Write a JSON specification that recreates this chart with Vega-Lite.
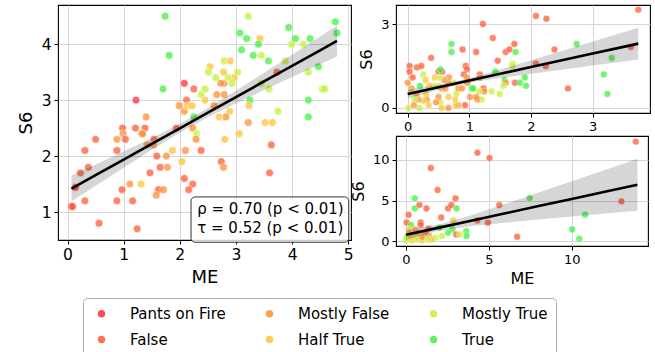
{
  "$schema": "https://vega.github.io/schema/vega-lite/v6.json",
  "padding": {"left": 16, "top": 4, "right": 2, "bottom": 0},
  "config": {
    "font": "DejaVu Sans",
    "view": {"stroke": "#000", "strokeWidth": 1.1},
    "axis": {"grid": true, "gridColor": "#d6d6d6", "gridWidth": 1, "domain": false, "tickColor": "#000", "tickSize": 4, "labelColor": "#000", "titleColor": "#000", "titleFontWeight": "normal", "labelFont": "DejaVu Sans", "titleFont": "DejaVu Sans", "labelPadding": 3, "format": "d"},
    "legend": {"orient": "none", "legendX": 25, "legendY": 293, "columns": 3, "direction": "horizontal", "symbolType": "circle", "symbolSize": 55, "symbolStrokeWidth": 0, "symbolOpacity": 0.85, "labelFontSize": 15, "labelColor": "#000", "labelFont": "DejaVu Sans", "labelOffset": 21, "columnPadding": 33, "rowPadding": 10, "padding": 8, "strokeColor": "#aaaaaa", "cornerRadius": 4, "fillColor": "#fff", "symbolOffset": 3, "labelLimit": 200}
  },
  "datasets": {
    "left": [
      {"x":1.74,"y":4.5,"rating":"True"},{"x":3.22,"y":4.5,"rating":"Mostly True"},{"x":1.81,"y":3.8,"rating":"True"},{"x":1.70,"y":3.2,"rating":"True"},{"x":3.07,"y":4.2,"rating":"True"},{"x":3.19,"y":4.1,"rating":"True"},{"x":3.10,"y":3.9,"rating":"True"},{"x":3.43,"y":4.1,"rating":"Half True"},
      {"x":3.40,"y":4.0,"rating":"True"},{"x":3.31,"y":3.8,"rating":"True"},{"x":3.45,"y":3.8,"rating":"Mostly True"},{"x":3.58,"y":3.7,"rating":"True"},{"x":3.94,"y":4.3,"rating":"True"},{"x":3.99,"y":4.0,"rating":"Mostly True"},{"x":4.06,"y":4.1,"rating":"True"},{"x":4.20,"y":4.0,"rating":"Mostly True"},
      {"x":4.32,"y":4.1,"rating":"True"},{"x":4.77,"y":4.4,"rating":"True"},{"x":4.80,"y":4.2,"rating":"True"},{"x":3.88,"y":3.7,"rating":"Mostly True"},{"x":4.47,"y":3.6,"rating":"True"},{"x":4.29,"y":3.5,"rating":"Mostly True"},{"x":4.54,"y":3.2,"rating":"Mostly True"},{"x":4.58,"y":3.2,"rating":"Mostly True"},
      {"x":4.29,"y":3.0,"rating":"True"},{"x":4.29,"y":2.7,"rating":"True"},{"x":3.75,"y":2.8,"rating":"Mostly True"},{"x":3.59,"y":3.2,"rating":"Mostly True"},{"x":3.73,"y":3.5,"rating":"False"},{"x":3.45,"y":3.3,"rating":"Mostly True"},{"x":3.25,"y":3.0,"rating":"True"},{"x":3.23,"y":2.9,"rating":"Half True"},
      {"x":3.22,"y":2.6,"rating":"Mostly False"},{"x":3.52,"y":2.6,"rating":"Half True"},{"x":3.65,"y":2.6,"rating":"Half True"},{"x":3.63,"y":2.2,"rating":"False"},{"x":3.60,"y":1.7,"rating":"False"},{"x":3.06,"y":2.4,"rating":"Half True"},{"x":2.80,"y":2.3,"rating":"Half True"},{"x":2.74,"y":1.9,"rating":"False"},
      {"x":2.78,"y":1.8,"rating":"Mostly False"},{"x":2.54,"y":3.6,"rating":"Half True"},{"x":2.51,"y":3.5,"rating":"Mostly True"},{"x":2.79,"y":3.7,"rating":"Mostly True"},{"x":2.90,"y":3.7,"rating":"Half True"},{"x":2.78,"y":3.5,"rating":"Half True"},{"x":2.64,"y":3.4,"rating":"Mostly True"},{"x":2.79,"y":3.3,"rating":"Mostly False"},
      {"x":2.73,"y":3.3,"rating":"Mostly False"},{"x":3.03,"y":3.5,"rating":"Mostly True"},{"x":2.97,"y":3.4,"rating":"Half True"},{"x":2.86,"y":3.4,"rating":"Mostly True"},{"x":2.93,"y":3.3,"rating":"Mostly True"},{"x":2.66,"y":3.1,"rating":"Mostly False"},{"x":2.79,"y":3.1,"rating":"Mostly False"},{"x":2.38,"y":3.1,"rating":"Mostly True"},
      {"x":2.45,"y":3.2,"rating":"Mostly True"},{"x":2.45,"y":3.0,"rating":"Half True"},{"x":2.61,"y":2.9,"rating":"Mostly False"},{"x":2.89,"y":2.8,"rating":"Half True"},{"x":2.82,"y":2.7,"rating":"Mostly False"},{"x":2.70,"y":2.7,"rating":"Half True"},{"x":2.25,"y":3.2,"rating":"False"},{"x":2.08,"y":3.3,"rating":"Pants on Fire"},
      {"x":2.12,"y":3.0,"rating":"False"},{"x":1.99,"y":2.9,"rating":"Mostly False"},{"x":2.08,"y":2.8,"rating":"Mostly False"},{"x":2.13,"y":2.9,"rating":"Half True"},{"x":2.22,"y":2.9,"rating":"Half True"},{"x":2.25,"y":2.7,"rating":"True"},{"x":2.23,"y":2.5,"rating":"Mostly False"},{"x":2.30,"y":2.4,"rating":"Mostly True"},
      {"x":2.29,"y":2.3,"rating":"Mostly False"},{"x":2.38,"y":2.1,"rating":"False"},{"x":2.10,"y":2.1,"rating":"Mostly False"},{"x":1.87,"y":2.1,"rating":"Half True"},{"x":2.04,"y":1.9,"rating":"Half True"},{"x":1.94,"y":2.5,"rating":"False"},{"x":2.08,"y":1.6,"rating":"False"},{"x":2.23,"y":1.5,"rating":"False"},
      {"x":2.16,"y":1.4,"rating":"False"},{"x":1.22,"y":3.0,"rating":"Pants on Fire"},{"x":1.40,"y":2.7,"rating":"Mostly False"},{"x":1.21,"y":2.5,"rating":"False"},{"x":1.38,"y":2.5,"rating":"False"},{"x":1.32,"y":2.4,"rating":"Mostly False"},{"x":1.34,"y":2.4,"rating":"Mostly False"},{"x":0.98,"y":2.5,"rating":"False"},
      {"x":0.99,"y":2.4,"rating":"Mostly False"},{"x":0.88,"y":2.3,"rating":"Mostly False"},{"x":1.03,"y":2.3,"rating":"False"},{"x":0.50,"y":2.3,"rating":"False"},{"x":1.42,"y":2.2,"rating":"Mostly False"},{"x":1.54,"y":2.3,"rating":"False"},{"x":1.53,"y":2.2,"rating":"Mostly False"},{"x":1.59,"y":2.0,"rating":"False"},
      {"x":1.76,"y":2.0,"rating":"Mostly False"},{"x":1.65,"y":1.8,"rating":"False"},{"x":1.78,"y":1.8,"rating":"Mostly False"},{"x":1.47,"y":1.7,"rating":"False"},{"x":0.88,"y":2.1,"rating":"False"},{"x":0.31,"y":2.1,"rating":"False"},{"x":0.37,"y":1.8,"rating":"False"},{"x":0.23,"y":1.7,"rating":"False"},
      {"x":0.14,"y":1.44,"rating":"Pants on Fire"},{"x":0.31,"y":1.2,"rating":"False"},{"x":0.07,"y":1.1,"rating":"Pants on Fire"},{"x":0.09,"y":1.1,"rating":"False"},{"x":0.97,"y":1.4,"rating":"False"},{"x":0.88,"y":1.2,"rating":"False"},{"x":1.16,"y":1.2,"rating":"False"},{"x":1.11,"y":1.5,"rating":"Mostly False"},
      {"x":1.31,"y":1.5,"rating":"Half True"},{"x":0.56,"y":0.8,"rating":"False"},{"x":1.24,"y":0.7,"rating":"False"},{"x":1.62,"y":1.4,"rating":"False"},{"x":1.71,"y":1.4,"rating":"Mostly False"},{"x":1.58,"y":1.3,"rating":"Mostly False"}
    ],
    "fitL": [
      {"x":0.07,"fit":1.419,"lo":1.187,"hi":1.651},{"x":0.5,"fit":1.659,"lo":1.468,"hi":1.850},{"x":1,"fit":1.938,"lo":1.793,"hi":2.083},{"x":1.5,"fit":2.217,"lo":2.112,"hi":2.322},{"x":2,"fit":2.496,"lo":2.416,"hi":2.576},{"x":2.5,"fit":2.775,"lo":2.692,"hi":2.858},{"x":3,"fit":3.054,"lo":2.941,"hi":3.167},{"x":3.5,"fit":3.333,"lo":3.179,"hi":3.487},{"x":4,"fit":3.612,"lo":3.412,"hi":3.812},{"x":4.5,"fit":3.891,"lo":3.643,"hi":4.139},{"x":4.8,"fit":4.058,"lo":3.781,"hi":4.335}
    ],
    "boxL": [{"x1":2.2,"x2":5.01,"y1":0.46,"y2":1.27}],
    "statsL": [{"x":2.31,"y":1.05,"t":"ρ = 0.70 (p < 0.01)"},{"x":2.31,"y":0.71,"t":"τ = 0.52 (p < 0.01)"}],
    "tr": [
      {"x":3.74,"y":3.51,"rating":"False"},{"x":2.08,"y":3.29,"rating":"False"},{"x":2.25,"y":3.19,"rating":"False"},{"x":1.22,"y":3.0,"rating":"False"},{"x":1.38,"y":2.5,"rating":"False"},{"x":1.73,"y":2.29,"rating":"False"},{"x":0.71,"y":2.29,"rating":"True"},{"x":0.71,"y":2.0,"rating":"True"},
      {"x":0.89,"y":2.09,"rating":"False"},{"x":1.11,"y":2.0,"rating":"False"},{"x":0.38,"y":1.79,"rating":"False"},{"x":1.59,"y":2.0,"rating":"False"},{"x":1.65,"y":2.09,"rating":"False"},{"x":1.75,"y":2.0,"rating":"True"},{"x":1.46,"y":1.69,"rating":"False"},{"x":1.70,"y":1.59,"rating":"Mostly True"},
      {"x":1.70,"y":1.5,"rating":"Mostly True"},{"x":2.08,"y":1.59,"rating":"False"},{"x":2.24,"y":1.5,"rating":"False"},{"x":2.38,"y":2.09,"rating":"False"},{"x":2.74,"y":2.29,"rating":"True"},{"x":3.31,"y":1.79,"rating":"True"},{"x":3.62,"y":2.18,"rating":"False"},{"x":3.18,"y":1.2,"rating":"True"},
      {"x":3.24,"y":0.5,"rating":"True"},{"x":2.6,"y":0.7,"rating":"False"},{"x":0.03,"y":1.5,"rating":"False"},{"x":0.03,"y":1.3,"rating":"False"},{"x":0.15,"y":1.45,"rating":"False"},{"x":0.22,"y":1.5,"rating":"False"},{"x":0.08,"y":1.09,"rating":"False"},{"x":0.0,"y":0.9,"rating":"Mostly False"},
      {"x":0.06,"y":0.7,"rating":"Mostly False"},{"x":0.25,"y":1.2,"rating":"Mostly True"},{"x":0.2,"y":0.79,"rating":"True"},{"x":0.50,"y":1.3,"rating":"False"},{"x":0.56,"y":1.3,"rating":"False"},{"x":0.53,"y":1.38,"rating":"True"},{"x":0.94,"y":1.5,"rating":"False"},{"x":0.96,"y":1.38,"rating":"False"},
      {"x":0.91,"y":1.2,"rating":"False"},{"x":1.17,"y":1.2,"rating":"False"},{"x":1.17,"y":1.09,"rating":"Mostly False"},{"x":1.42,"y":1.3,"rating":"True"},{"x":1.57,"y":1.0,"rating":"True"},{"x":1.59,"y":0.9,"rating":"Mostly False"},{"x":1.74,"y":0.9,"rating":"False"},{"x":1.82,"y":0.9,"rating":"True"},
      {"x":1.9,"y":1.09,"rating":"True"},{"x":1.92,"y":0.79,"rating":"True"},{"x":1.55,"y":0.79,"rating":"Mostly True"},{"x":1.36,"y":0.59,"rating":"Mostly True"},{"x":1.49,"y":0.5,"rating":"Mostly True"},{"x":1.23,"y":0.7,"rating":"False"},{"x":1.24,"y":0.59,"rating":"Mostly False"},{"x":1.04,"y":0.7,"rating":"True"},
      {"x":1.06,"y":0.7,"rating":"True"},{"x":1.16,"y":0.59,"rating":"Mostly True"},{"x":1.2,"y":0.3,"rating":"Mostly True"},{"x":1.13,"y":0.3,"rating":"Mostly False"},{"x":1.11,"y":0.39,"rating":"Mostly False"},{"x":1.01,"y":0.39,"rating":"Mostly False"},{"x":0.97,"y":0.9,"rating":"Mostly False"},{"x":0.96,"y":1.09,"rating":"Mostly False"},
      {"x":0.93,"y":0.1,"rating":"False"},{"x":0.82,"y":0.1,"rating":"Mostly False"},{"x":0.78,"y":0.1,"rating":"Half True"},{"x":0.77,"y":0.3,"rating":"Half True"},{"x":0.79,"y":0.5,"rating":"Mostly True"},{"x":0.82,"y":0.7,"rating":"Mostly False"},{"x":0.88,"y":0.7,"rating":"Mostly False"},{"x":0.74,"y":0.9,"rating":"Mostly True"},
      {"x":0.66,"y":0.9,"rating":"Mostly False"},{"x":0.67,"y":1.09,"rating":"Mostly False"},{"x":0.59,"y":1.0,"rating":"Mostly False"},{"x":0.55,"y":0.7,"rating":"Mostly False"},{"x":0.61,"y":0.7,"rating":"Mostly False"},{"x":0.50,"y":0.79,"rating":"Mostly True"},{"x":0.42,"y":0.79,"rating":"Mostly True"},{"x":0.44,"y":1.09,"rating":"Half True"},
      {"x":0.52,"y":1.09,"rating":"Mostly True"},{"x":0.29,"y":1.0,"rating":"Half True"},{"x":0.35,"y":0.79,"rating":"Half True"},{"x":0.30,"y":0.5,"rating":"Half True"},{"x":0.31,"y":0.3,"rating":"Mostly False"},{"x":0.25,"y":0.26,"rating":"Half True"},{"x":0.17,"y":0.3,"rating":"Mostly False"},{"x":0.14,"y":0.5,"rating":"Mostly False"},
      {"x":0.11,"y":0.3,"rating":"Mostly True"},{"x":0.19,"y":0.0,"rating":"Mostly True"},{"x":0.01,"y":0.0,"rating":"Mostly True"},{"x":0.1,"y":0.1,"rating":"Mostly False"},{"x":0.34,"y":0.1,"rating":"Half True"},{"x":0.53,"y":0.2,"rating":"Mostly True"},{"x":0.55,"y":0.0,"rating":"Half True"},{"x":0.66,"y":0.39,"rating":"Half True"},
      {"x":0.50,"y":0.39,"rating":"Mostly False"},{"x":0.46,"y":0.2,"rating":"Mostly False"},{"x":0.06,"y":0.59,"rating":"Half True"},{"x":0.66,"y":0.0,"rating":"Mostly False"}
    ],
    "fitTR": [
      {"x":0,"fit":0.5,"lo":0.331,"hi":0.669},{"x":0.5,"fit":0.741,"lo":0.650,"hi":0.832},{"x":1,"fit":0.981,"lo":0.900,"hi":1.062},{"x":1.5,"fit":1.222,"lo":1.070,"hi":1.374},{"x":2,"fit":1.462,"lo":1.221,"hi":1.703},{"x":2.5,"fit":1.703,"lo":1.368,"hi":2.038},{"x":3,"fit":1.943,"lo":1.514,"hi":2.372},{"x":3.5,"fit":2.184,"lo":1.660,"hi":2.708},{"x":3.74,"fit":2.299,"lo":1.729,"hi":2.869}
    ],
    "br": [
      {"x":13.86,"y":12.26,"rating":"False"},{"x":4.31,"y":10.9,"rating":"False"},{"x":5.04,"y":10.25,"rating":"False"},{"x":1.50,"y":9.0,"rating":"False"},{"x":1.91,"y":6.3,"rating":"False"},{"x":2.99,"y":5.27,"rating":"False"},{"x":0.53,"y":5.27,"rating":"True"},{"x":0.53,"y":4.03,"rating":"True"},
      {"x":0.81,"y":4.44,"rating":"False"},{"x":1.24,"y":4.03,"rating":"False"},{"x":2.54,"y":4.03,"rating":"False"},{"x":2.74,"y":4.44,"rating":"False"},{"x":3.05,"y":4.03,"rating":"True"},{"x":5.63,"y":4.44,"rating":"False"},{"x":7.46,"y":5.3,"rating":"True"},{"x":13.0,"y":4.9,"rating":"False"},
      {"x":10.81,"y":3.25,"rating":"True"},{"x":10.02,"y":1.44,"rating":"True"},{"x":10.45,"y":0.29,"rating":"True"},{"x":6.71,"y":0.53,"rating":"False"},{"x":4.31,"y":2.55,"rating":"False"},{"x":4.94,"y":2.26,"rating":"False"},{"x":2.13,"y":2.92,"rating":"False"},{"x":0.16,"y":3.25,"rating":"False"},
      {"x":0.04,"y":2.3,"rating":"False"},{"x":0.3,"y":2.0,"rating":"True"},{"x":0.89,"y":2.3,"rating":"False"},{"x":0.89,"y":2.0,"rating":"False"},{"x":2.85,"y":2.55,"rating":"Half True"},{"x":2.8,"y":1.44,"rating":"True"},{"x":2.54,"y":1.03,"rating":"True"},{"x":2.03,"y":1.65,"rating":"True"},
      {"x":3.03,"y":0.82,"rating":"False"},{"x":3.64,"y":1.23,"rating":"True"},{"x":3.66,"y":0.62,"rating":"True"},{"x":3.25,"y":0.82,"rating":"Mostly True"},{"x":1.36,"y":1.52,"rating":"False"},{"x":1.12,"y":0.62,"rating":"True"},{"x":1.40,"y":0.62,"rating":"Mostly False"},{"x":0.04,"y":0.41,"rating":"True"},
      {"x":0.24,"y":1.03,"rating":"False"},{"x":0.55,"y":1.44,"rating":"Mostly False"},{"x":0.75,"y":1.03,"rating":"Mostly False"},{"x":1.77,"y":0.41,"rating":"Mostly True"},{"x":2.17,"y":0.62,"rating":"Mostly True"},{"x":1.56,"y":0.2,"rating":"Half True"},{"x":0.96,"y":0.08,"rating":"Half True"},{"x":0.35,"y":0.08,"rating":"Half True"},
      {"x":0.0,"y":0.08,"rating":"Mostly True"},{"x":0.65,"y":0.62,"rating":"Mostly False"},{"x":0.18,"y":1.44,"rating":"Half True"},{"x":1.16,"y":1.03,"rating":"False"},{"x":0.41,"y":0.7,"rating":"Mostly False"},{"x":0.1,"y":0.3,"rating":"Mostly True"},{"x":0.3,"y":0.5,"rating":"Half True"},{"x":0.8,"y":0.3,"rating":"Half True"},
      {"x":1.0,"y":0.5,"rating":"Mostly False"},{"x":0.6,"y":0.2,"rating":"Mostly True"},{"x":1.3,"y":0.2,"rating":"Mostly True"}
    ],
    "fitBR": [
      {"x":0,"fit":0.78,"lo":0.18,"hi":1.38},{"x":2,"fit":1.664,"lo":1.287,"hi":2.041},{"x":4,"fit":2.548,"lo":1.862,"hi":3.234},{"x":6,"fit":3.432,"lo":2.273,"hi":4.591},{"x":8,"fit":4.316,"lo":2.653,"hi":5.979},{"x":10,"fit":5.2,"lo":3.025,"hi":7.375},{"x":12,"fit":6.084,"lo":3.392,"hi":8.776},{"x":13.96,"fit":6.95,"lo":3.75,"hi":10.15}
    ]
  },
  "spacing": -5,
  "resolve": {"scale": {"color": "shared"}},
  "hconcat": [
    {
      "width": 293, "height": 235,
      "layer": [
        {"data": {"name": "left"}, "mark": {"type": "circle", "size": 60, "opacity": 0.75, "stroke": "#fff", "strokeWidth": 0.6},
         "encoding": {
           "x": {"field": "x", "type": "quantitative", "scale": {"domain": [-0.17, 5.05], "nice": false, "zero": false}, "axis": {"values": [0,1,2,3,4,5], "title": "ME", "labelFontSize": 15.5, "titleFontSize": 18, "titlePadding": 6}},
           "y": {"field": "y", "type": "quantitative", "scale": {"domain": [0.5, 4.7], "nice": false, "zero": false}, "axis": {"values": [1,2,3,4], "title": "S6", "labelFontSize": 15.5, "titleFontSize": 18, "titlePadding": 6}},
           "color": {"field": "rating", "type": "nominal", "scale": {"domain": ["Pants on Fire","Mostly False","Mostly True","False","Half True","True"], "range": ["#fc2e3e","#fd8f36","#c3f23b","#fc5b37","#fdc43a","#44ef44"]}, "legend": {"title": null}}
         }},
        {"data": {"name": "fitL"}, "mark": {"type": "area", "color": "#000", "opacity": 0.16},
         "encoding": {"x": {"field": "x", "type": "quantitative"}, "y": {"field": "lo", "type": "quantitative"}, "y2": {"field": "hi"}}},
        {"data": {"name": "fitL"}, "mark": {"type": "line", "color": "#000", "strokeWidth": 2.6},
         "encoding": {"x": {"field": "x", "type": "quantitative"}, "y": {"field": "fit", "type": "quantitative"}}},
        {"data": {"name": "boxL"}, "mark": {"type": "rect", "fill": "#fff", "fillOpacity": 0.8, "stroke": "#333", "strokeWidth": 1, "cornerRadius": 4},
         "encoding": {"x": {"field": "x1", "type": "quantitative"}, "x2": {"field": "x2"}, "y": {"field": "y1", "type": "quantitative"}, "y2": {"field": "y2"}}},
        {"data": {"name": "statsL"}, "mark": {"type": "text", "align": "left", "baseline": "middle", "fontSize": 15, "font": "DejaVu Sans", "color": "#000"},
         "encoding": {"x": {"field": "x", "type": "quantitative"}, "y": {"field": "y", "type": "quantitative"}, "text": {"field": "t"}}}
      ]
    },
    {
      "spacing": 23,
      "bounds": "flush",
      "vconcat": [
        {
          "width": 254, "height": 108,
          "layer": [
            {"data": {"name": "tr"}, "mark": {"type": "circle", "size": 48, "opacity": 0.75, "stroke": "#fff", "strokeWidth": 0.5},
             "encoding": {
               "x": {"field": "x", "type": "quantitative", "scale": {"domain": [-0.19, 3.93], "nice": false, "zero": false}, "axis": {"values": [0,1,2,3], "title": null, "labelFontSize": 13}},
               "y": {"field": "y", "type": "quantitative", "scale": {"domain": [-0.18, 3.68], "nice": false, "zero": false}, "axis": {"values": [0,1,2,3], "title": "S6", "labelFontSize": 13, "titleFontSize": 16, "titlePadding": 6}},
               "color": {"field": "rating", "type": "nominal", "legend": {"title": null}}
             }},
            {"data": {"name": "fitTR"}, "mark": {"type": "area", "color": "#000", "opacity": 0.16},
             "encoding": {"x": {"field": "x", "type": "quantitative"}, "y": {"field": "lo", "type": "quantitative"}, "y2": {"field": "hi"}}},
            {"data": {"name": "fitTR"}, "mark": {"type": "line", "color": "#000", "strokeWidth": 2.6},
             "encoding": {"x": {"field": "x", "type": "quantitative"}, "y": {"field": "fit", "type": "quantitative"}}}
          ]
        },
        {
          "width": 252, "height": 110,
          "layer": [
            {"data": {"name": "br"}, "mark": {"type": "circle", "size": 48, "opacity": 0.75, "stroke": "#fff", "strokeWidth": 0.5},
             "encoding": {
               "x": {"field": "x", "type": "quantitative", "scale": {"domain": [-0.6, 14.6], "nice": false, "zero": false}, "axis": {"values": [0,5,10], "title": "ME", "labelFontSize": 13, "titleFontSize": 16, "titlePadding": 4}},
               "y": {"field": "y", "type": "quantitative", "scale": {"domain": [-0.6, 12.95], "nice": false, "zero": false}, "axis": {"values": [0,5,10], "title": "S6", "labelFontSize": 13, "titleFontSize": 16, "titlePadding": 6}},
               "color": {"field": "rating", "type": "nominal", "legend": {"title": null}}
             }},
            {"data": {"name": "fitBR"}, "mark": {"type": "area", "color": "#000", "opacity": 0.16},
             "encoding": {"x": {"field": "x", "type": "quantitative"}, "y": {"field": "lo", "type": "quantitative"}, "y2": {"field": "hi"}}},
            {"data": {"name": "fitBR"}, "mark": {"type": "line", "color": "#000", "strokeWidth": 2.6},
             "encoding": {"x": {"field": "x", "type": "quantitative"}, "y": {"field": "fit", "type": "quantitative"}}}
          ]
        }
      ]
    }
  ]
}
